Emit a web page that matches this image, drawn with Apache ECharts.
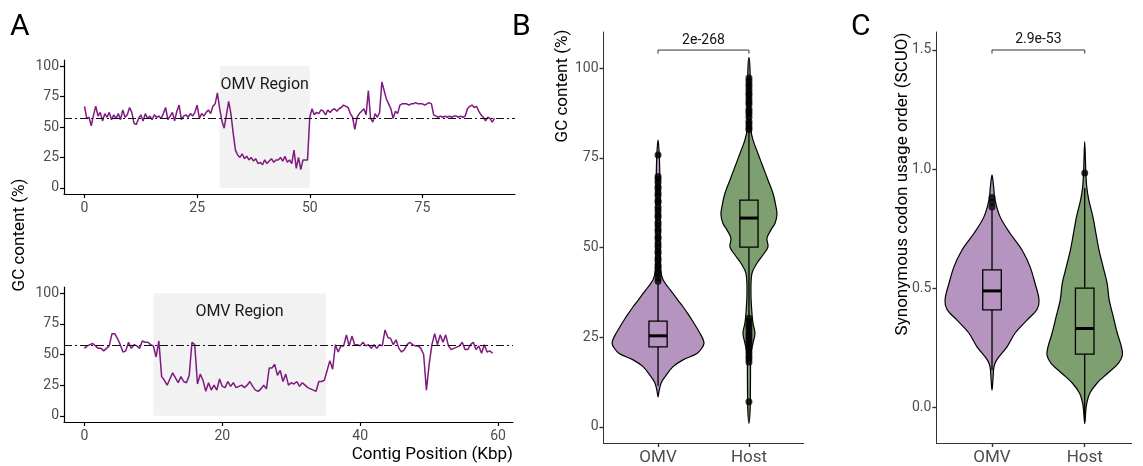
<!DOCTYPE html>
<html><head><meta charset="utf-8">
<script src="https://cdn.jsdelivr.net/npm/echarts@6/dist/echarts.min.js"></script>
<style>html,body{margin:0;padding:0;background:#fff}#c{width:1143px;height:466px}</style>
</head><body><div id="c"></div>
<script>
// ---------------- Panel A data ----------------
const topStepKbp = 0.5;
const topGc = [
  67,57,58,51,60,67,59,62,55,61,
  58,62,56,60,57,61,56,64,58,60,
  66,62,53,52,57,60,55,61,57,59,
  56,60,58,59,57,61,66,56,59,62,
  55,63,68,56,59,60,58,61,59,62,
  68,57,61,59,62,64,61,67,69,78,
  65,55,49,60,71,61,45,31,27,25,
  28,24,26,23,25,22,24,20,21,19,
  23,20,22,24,21,23,23,25,22,26,
  21,23,20,31,16,25,15,23,23,23,
  58,65,60,62,61,64,63,60,64,62,
  64,65,63,65,66,68,67,66,61,58,
  48,58,61,63,65,60,80,57,54,61,
  58,62,87,80,73,69,65,57,63,61,
  68,69,69,69,68,69,69,70,69,69,
  69,68,69,70,69,60,59,58,59,58,
  59,58,59,58,59,59,58,59,58,59,
  65,67,68,66,67,63,60,58,55,58,
  57,54,57
];
const bottomStepKbp = 0.4;
const bottomGc = [
  55,57,58,59,57,55,55,53,55,57,
  67,67,63,58,52,53,60,55,58,57,
  55,61,60,60,58,57,48,61,32,29,
  25,30,35,31,27,32,28,27,33,60,
  58,26,34,29,20,27,21,25,21,30,
  24,23,28,24,27,23,24,25,23,25,
  28,24,21,20,22,25,22,39,39,42,
  33,37,28,34,25,27,26,28,24,27,
  25,23,22,21,20,28,28,29,37,45,
  38,58,52,57,57,66,57,65,58,58,
  57,60,57,58,55,58,55,58,57,70,
  64,63,58,62,55,52,54,58,60,58,
  57,57,55,50,21,42,58,67,58,66,
  60,66,57,54,55,56,57,60,54,54,
  58,60,54,57,51,58,52,53,51
];
const topOmvRegion = [30, 50];
const bottomOmvRegion = [10, 35];
const genomeMeanGc = 57.5;
const aYTicks = [0, 25, 50, 75, 100];
const aTopXTicks = [0, 25, 50, 75];
const aBottomXTicks = [0, 20, 40, 60];

// ---------------- Panels B & C data ----------------
const groups = ['OMV', 'Host'];
const gcTicks = [0, 25, 50, 75, 100];
const scuoTicks = [0, 0.5, 1.0, 1.5];
// [low whisker, q1, median, q3, high whisker]
const gcBox = [[11.5, 22.3, 25.4, 29.5, 40.0], [30.8, 50.1, 58.2, 63.2, 82.5]];
const scuoBox = [[0.155, 0.408, 0.488, 0.576, 0.828], [-0.06, 0.222, 0.330, 0.500, 0.92]];
const gcOmvOutliers = [40.6,41.4,42.7,43.3,44.5,45.2,46.4,47.1,48.3,49.0,50.2,51.1,52.4,53.0,54.3,55.1,56.2,57.0,58.4,59.1,60.3,61.2,62.5,63.1,64.4,65.2,66.3,67.0,68.2,69.1,69.8,75.8];
const gcHostOutliers = [82.9,83.6,84.4,85.1,86.3,87.2,87.9,88.6,89.8,90.5,91.4,92.3,93.0,93.8,94.7,95.5,96.4,97.2,
  18.1,19.0,19.8,20.7,21.5,22.2,23.1,23.9,24.6,25.4,26.2,27.0,27.9,28.6,29.5,30.3,7.0];
const scuoOmvOutliers = [0.84, 0.86, 0.88];
const scuoHostOutliers = [0.983];
// violin profiles: [value, relative density]
const gcOmvViolin = [[8.4,0],[10,1],[12.2,3],[14,7],[16.8,15],[18.7,25],[20.5,39],[22,44],[23.3,46],[24.5,45],[26.1,42],[28,38],[29.8,34],[31.5,30],[33.5,25],[35.3,20],[37.2,15],[39,10],[41,5],[43,3],[47,2.2],[55,2],[63,2],[70,1.8],[76,1.2],[80,0]];
const gcHostViolin = [[1,0],[5,1.2],[12.2,1.5],[20.6,2],[23.3,4],[26.1,6],[29,4],[31.7,3],[37.2,2],[42.8,3],[45.6,8],[47.9,14],[50.2,19],[52.6,18],[54.9,22],[56.7,26],[59.1,28],[61.4,27],[65.1,24],[68.8,19],[72.5,14],[76.2,9],[80,4],[82.7,2],[91,1.5],[100,1],[103,0]];
const scuoOmvViolin = [[0.071,0],[0.12,1],[0.17,2],[0.2,5],[0.253,15],[0.31,23],[0.365,35],[0.41,45],[0.45,47],[0.52,43],[0.59,38],[0.66,30],[0.73,18],[0.8,8],[0.87,3],[0.93,1.5],[0.975,0]];
const scuoHostViolin = [[-0.07,0],[-0.02,1],[0.016,2],[0.058,5],[0.1,12],[0.14,22],[0.184,33],[0.218,37],[0.253,36],[0.31,32],[0.38,28],[0.45,24],[0.52,22],[0.59,18],[0.66,14],[0.73,11],[0.8,8],[0.87,4],[0.925,2],[1.0,1],[1.115,0]];
const gcPValue = '2e-268';
const scuoPValue = '2.9e-53';
const gcBracketY = 105;
const scuoBracketY = 1.5;

// ---------------- styling ----------------
const FONT = 'Roboto, "Noto Sans", sans-serif';
const PURPLE = '#B594BF', GREEN = '#7E9F6F', LINE = '#7E1A80';
const tickGrey = '#4D4D4D';

function aXAxis(idx, min, max, ticks) {
  return { type:'value', gridIndex: idx, min, max,
    axisLine:{show:true, onZero:false, lineStyle:{color:'#000', width:1.2}},
    axisTick:{show:true, length:4, customValues: ticks, lineStyle:{color:'#000', width:1.2}},
    axisLabel:{customValues: ticks, color: tickGrey, fontSize:14, fontFamily:FONT, margin:7},
    splitLine:{show:false} };
}
function aYAxis(idx) {
  return { type:'value', gridIndex: idx, min:-5, max:105,
    axisLine:{show:true, onZero:false, lineStyle:{color:'#000', width:1.2}},
    axisTick:{show:true, length:4, customValues: aYTicks, lineStyle:{color:'#000', width:1.2}},
    axisLabel:{customValues: aYTicks, color: tickGrey, fontSize:14, fontFamily:FONT, margin:5},
    splitLine:{show:false} };
}
function catAxis(idx, max) {
  return { type:'value', gridIndex: idx, min:0.4, max,
    axisLine:{show:true, onZero:false, lineStyle:{color:'#333', width:1}},
    axisTick:{show:true, length:4, customValues:[1,2], lineStyle:{color:'#333', width:1.4}},
    axisLabel:{customValues:[1,2], formatter: v => groups[Math.round(v)-1], color: tickGrey, fontSize:17, fontFamily:FONT, margin:6},
    splitLine:{show:false} };
}
function valAxis(idx, min, max, ticks, dec) {
  return { type:'value', gridIndex: idx, min, max,
    axisLine:{show:true, onZero:false, lineStyle:{color:'#333', width:1}},
    axisTick:{show:true, length:4, customValues: ticks, lineStyle:{color:'#333', width:1.4}},
    axisLabel:{customValues: ticks, formatter: v => v.toFixed(dec), color: tickGrey, fontSize:14, fontFamily:FONT, margin:5},
    splitLine:{show:false} };
}
function gcLine(idx, step, values, region) {
  return { type:'line', xAxisIndex: idx, yAxisIndex: idx, showSymbol:false, symbol:'none', z:3,
    data: values.map((v,i) => [+(i*step).toFixed(2), v]),
    lineStyle:{color: LINE, width:1.5}, silent:true, animation:false,
    markArea:{ silent:true, itemStyle:{color:'#F2F2F2'},
      label:{show:true, position:'insideTop', distance:11, formatter:'OMV Region', color:'#1a1a1a', fontSize:16, fontFamily:FONT},
      data:[[{xAxis: region[0], yAxis: 0}, {xAxis: region[1], yAxis: 100}]] },
    markLine:{ silent:true, symbol:'none', animation:false, label:{show:false},
      lineStyle:{color:'#111', width:1, type:[8,3,2,3]},
      data:[{yAxis: genomeMeanGc}] } };
}
function violin(idx, groupNo, profile, maxHalf, color) {
  const maxD = Math.max(...profile.map(p => p[1]));
  return { type:'custom', xAxisIndex: idx, yAxisIndex: idx, z:2, silent:true, animation:false,
    data:[[groupNo, profile[0][0]]], encode:{x:0, y:1},
    renderItem(params, api) {
      const cx = api.value(0);
      const right = profile.map(p => api.coord([cx + p[1]/maxD*maxHalf, p[0]]));
      const left = profile.slice(1, -1).reverse().map(p => api.coord([cx - p[1]/maxD*maxHalf, p[0]]));
      return { type:'polygon', shape:{points: right.concat(left), smooth:0.35},
        style:{fill: color, stroke:'#000', lineWidth:1.2} };
    } };
}
function boxes(idx, stats) {
  return { type:'custom', xAxisIndex: idx, yAxisIndex: idx, z:3, silent:true, animation:false,
    data: stats.map((s,i) => [i+1, ...s]), encode:{x:0, y:[1,2,3,4,5]},
    renderItem(params, api) {
      const x = api.value(0), lo = api.value(1), q1 = api.value(2), md = api.value(3), q3 = api.value(4), hi = api.value(5);
      const hw = 0.1;
      const pLo = api.coord([x, lo]), pQ1 = api.coord([x, q1]), pQ3 = api.coord([x, q3]), pHi = api.coord([x, hi]);
      const tl = api.coord([x - hw, q3]), br = api.coord([x + hw, q1]);
      const m1 = api.coord([x - hw, md]), m2 = api.coord([x + hw, md]);
      const ls = {stroke:'#000', lineWidth:1.3};
      return { type:'group', children:[
        {type:'line', shape:{x1:pLo[0], y1:pLo[1], x2:pQ1[0], y2:pQ1[1]}, style:ls},
        {type:'line', shape:{x1:pQ3[0], y1:pQ3[1], x2:pHi[0], y2:pHi[1]}, style:ls},
        {type:'rect', shape:{x:tl[0], y:tl[1], width:br[0]-tl[0], height:br[1]-tl[1]}, style:{fill:'none', stroke:'#000', lineWidth:1.3}},
        {type:'line', shape:{x1:m1[0], y1:m1[1], x2:m2[0], y2:m2[1]}, style:{stroke:'#000', lineWidth:3}}
      ]};
    } };
}
function outliers(idx, groupNo, vals) {
  return { type:'scatter', xAxisIndex: idx, yAxisIndex: idx, z:4, silent:true, animation:false,
    symbolSize:7, itemStyle:{color:'#000'}, data: vals.map(v => [groupNo, v]) };
}
function bracket(idx, y, drop, label) {
  return { type:'custom', xAxisIndex: idx, yAxisIndex: idx, z:4, silent:true, animation:false,
    data:[[1, 2, y, y - drop]], encode:{x:[0,1], y:[2,3]},
    renderItem(params, api) {
      const a = api.coord([api.value(0), api.value(2)]), b = api.coord([api.value(1), api.value(2)]);
      const a2 = api.coord([api.value(0), api.value(3)]), b2 = api.coord([api.value(1), api.value(3)]);
      const ls = {stroke:'#333', lineWidth:1};
      return { type:'group', children:[
        {type:'polyline', shape:{points:[a2, a, b, b2]}, style:{fill:'none', stroke:'#333', lineWidth:1}},
        {type:'text', x:(a[0]+b[0])/2, y:a[1]-3, style:{text: label, fontSize:14, fontFamily:FONT, fill:'#111', align:'center', verticalAlign:'bottom'}}
      ]};
    } };
}

const chart = echarts.init(document.getElementById('c'), null, {renderer:'canvas'});
chart.setOption({
  backgroundColor:'#fff',
  animation:false,
  grid:[
    {left:64, top:60, width:451, height:134, containLabel:false, outerBoundsMode:'none'},
    {left:64, top:287, width:449, height:135, containLabel:false, outerBoundsMode:'none'},
    {left:603.5, top:32, width:200, height:411, containLabel:false, outerBoundsMode:'none'},
    {left:936.4, top:32, width:195.3, height:411, containLabel:false, outerBoundsMode:'none'}
  ],
  xAxis:[
    aXAxis(0, -4.55, 95.55, aTopXTicks),
    aXAxis(1, -2.96, 62.16, aBottomXTicks),
    catAxis(2, 2.6),
    catAxis(3, 2.507)
  ],
  yAxis:[
    aYAxis(0), aYAxis(1),
    valAxis(2, -4.46, 110.03, gcTicks, 0),
    valAxis(3, -0.151, 1.5756, scuoTicks, 1)
  ],
  series:[
    gcLine(0, topStepKbp, topGc, topOmvRegion),
    gcLine(1, bottomStepKbp, bottomGc, bottomOmvRegion),
    violin(2, 1, gcOmvViolin, 0.505, PURPLE),
    violin(2, 2, gcHostViolin, 0.308, GREEN),
    boxes(2, gcBox),
    outliers(2, 1, gcOmvOutliers),
    outliers(2, 2, gcHostOutliers),
    bracket(2, gcBracketY, 1, gcPValue),
    violin(3, 1, scuoOmvViolin, 0.507, PURPLE),
    violin(3, 2, scuoHostViolin, 0.407, GREEN),
    boxes(3, scuoBox),
    outliers(3, 1, scuoOmvOutliers),
    outliers(3, 2, scuoHostOutliers),
    bracket(3, scuoBracketY, 0.015, scuoPValue)
  ],
  graphic:[
    {type:'text', x:10, y:12, style:{text:'A', fontSize:30, fontFamily:FONT, fill:'#000'}},
    {type:'text', x:512, y:12, style:{text:'B', fontSize:30, fontFamily:FONT, fill:'#000'}},
    {type:'text', x:851, y:12, style:{text:'C', fontSize:30, fontFamily:FONT, fill:'#000'}},
    {type:'text', x:20, y:235, rotation:Math.PI/2, style:{text:'GC content (%)', fontSize:17, fontFamily:FONT, fill:'#000', align:'center', verticalAlign:'middle'}},
    {type:'text', x:513, y:455, style:{text:'Contig Position (Kbp)', fontSize:17, fontFamily:FONT, fill:'#000', align:'right', verticalAlign:'middle'}},
    {type:'text', x:563, y:86, rotation:Math.PI/2, style:{text:'GC content (%)', fontSize:17, fontFamily:FONT, fill:'#000', align:'center', verticalAlign:'middle'}},
    {type:'text', x:903, y:184, rotation:Math.PI/2, style:{text:'Synonymous codon usage order (SCUO)', fontSize:17, fontFamily:FONT, fill:'#000', align:'center', verticalAlign:'middle'}}
  ]
});
</script></body></html>
